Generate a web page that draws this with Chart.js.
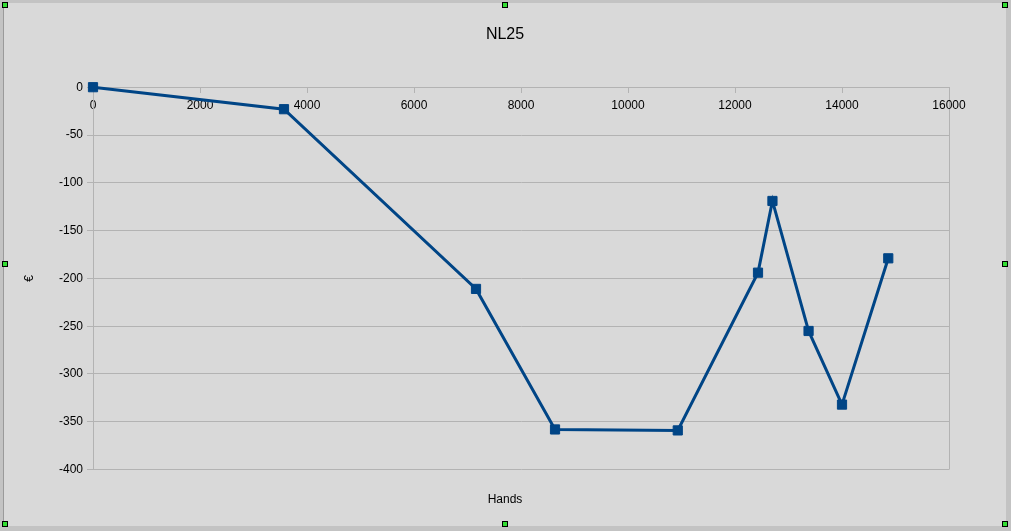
<!DOCTYPE html>
<html>
<head>
<meta charset="utf-8">
<script src="https://cdn.jsdelivr.net/npm/chart.js@4/dist/chart.umd.min.js"></script>
<style>
  html, body { margin: 0; padding: 0; background: #c3c3c3; width: 1011px; height: 531px; overflow: hidden; }
  #frame { position: absolute; left: 3px; top: 3px; width: 1003px; height: 523px; background: #d9d9d9; border-left: 1px solid #9a9a9a; box-sizing: border-box; }
  #frame canvas { position: absolute; left: 0; top: 0; }
  .h { position: absolute; width: 6px; height: 6px; background: #33dd33; border: 1px solid #000; box-sizing: border-box; }
</style>
</head>
<body>
<div id="frame"><canvas id="NLChart" width="1002" height="523"></canvas></div>
<div class="h" style="left:2px;top:2px"></div>
<div class="h" style="left:502px;top:2px"></div>
<div class="h" style="left:1002px;top:2px"></div>
<div class="h" style="left:2px;top:261px"></div>
<div class="h" style="left:1002px;top:261px"></div>
<div class="h" style="left:2px;top:521px"></div>
<div class="h" style="left:502px;top:521px"></div>
<div class="h" style="left:1002px;top:521px"></div>
<script>
// 手数と収支（読み取り値）
var hands = [0, 3570, 7159, 8636, 10930, 12430, 12700, 13375, 14000, 14865];
var euros = [0, -23, -211, -358, -359, -194, -119, -255, -332, -179];

var xTicks = [0, 2000, 4000, 6000, 8000, 10000, 12000, 14000, 16000];
var yTicks = [0, -50, -100, -150, -200, -250, -300, -350, -400];

var points = [];
for (var i = 0; i < hands.length; i++) {
    points.push({ x: hands[i], y: euros[i] });
}

var FONT = "'Liberation Sans', Arial, sans-serif";
var GRID = '#b3b3b3';

var ctx = document.getElementById('NLChart').getContext('2d');
new Chart(ctx, {
    type: 'line',
    data: {
        datasets: [{
            label: 'NL25',
            data: points,
            borderColor: '#004586',
            backgroundColor: '#004586',
            borderWidth: 3,
            pointStyle: 'rect',
            pointRadius: 6.5,
            pointBorderWidth: 1,
            pointBorderColor: '#004586',
            pointBackgroundColor: '#004586',
            tension: 0,
            fill: false,
            clip: false
        }]
    },
    options: {
        responsive: false,
        animation: false,
        layout: { padding: 0 },
        plugins: {
            legend: { display: false },
            tooltip: { enabled: false },
            title: {
                display: true,
                text: 'NL25',
                color: '#000',
                font: { family: FONT, size: 16, weight: 'normal' },
                padding: { top: 22, bottom: 43 }
            },
            subtitle: {
                display: true,
                position: 'bottom',
                text: 'Hands',
                color: '#000',
                font: { family: FONT, size: 12, weight: 'normal' },
                padding: { top: 23, bottom: 19 }
            }
        },
        scales: {
            x: {
                type: 'linear',
                position: { y: 0 },
                min: 0,
                max: 16000,
                afterBuildTicks: function (axis) {
                    axis.ticks = xTicks.map(function (v) { return { value: v }; });
                },
                ticks: {
                    color: '#000',
                    font: { family: FONT, size: 12 },
                    padding: 6,
                    maxRotation: 0,
                    autoSkip: false,
                    callback: function (v) { return String(v); }
                },
                grid: {
                    color: function (c) { return c.tick && c.tick.value === 16000 ? GRID : 'rgba(0,0,0,0)'; },
                    tickColor: GRID,
                    tickLength: 5,
                    lineWidth: 1
                },
                border: { color: GRID, width: 1 }
            },
            y: {
                type: 'linear',
                position: 'left',
                min: -400,
                max: 0,
                afterBuildTicks: function (axis) {
                    axis.ticks = yTicks.map(function (v) { return { value: v }; });
                },
                afterFit: function (axis) { axis.width = 89; },
                ticks: {
                    color: '#000',
                    font: { family: FONT, size: 12 },
                    padding: 4,
                    callback: function (v) { return String(v); }
                },
                grid: {
                    color: GRID,
                    tickColor: GRID,
                    tickLength: 6,
                    lineWidth: 1
                },
                border: { color: GRID, width: 1 },
                title: {
                    display: true,
                    text: '€',
                    color: '#000',
                    font: { family: FONT, size: 12 },
                    padding: { top: 18, bottom: 0 }
                }
            },
            // 右側の余白用（描画なし）
            yRight: {
                type: 'linear',
                position: 'right',
                min: -400,
                max: 0,
                afterFit: function (axis) { axis.width = 57; },
                ticks: { display: false },
                grid: { display: false },
                border: { display: false }
            }
        }
    }
});
</script>
</body>
</html>
